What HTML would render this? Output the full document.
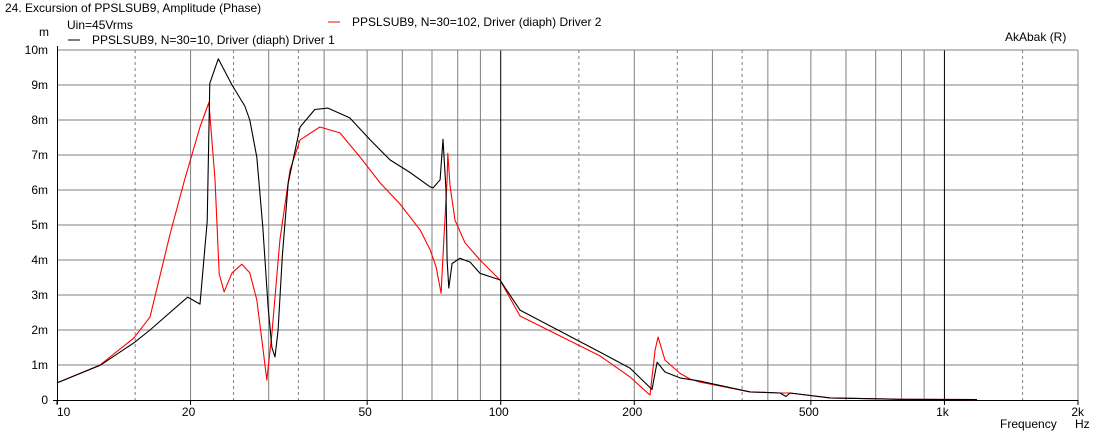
<!DOCTYPE html>
<html><head><meta charset="utf-8">
<style>
html,body{margin:0;padding:0;background:#fff;}
svg{display:block;font-family:"Liberation Sans",Arial,sans-serif;font-size:12px;}
</style></head>
<body>
<svg id="chart" width="1104" height="437" viewBox="0 0 1104 437" xmlns="http://www.w3.org/2000/svg">
<rect x="0" y="0" width="1104" height="437" fill="#fff"/>
<text x="5" y="12">24. Excursion of PPSLSUB9, Amplitude (Phase)</text>
<text x="67" y="29">Uin=45Vrms</text>
<text x="39" y="36">m</text>
<g>
<line x1="68" y1="40" x2="80" y2="40" stroke="#000" stroke-width="1"/>
<text x="92" y="44">PPSLSUB9, N=30=10, Driver (diaph) Driver 1</text>
</g>
<g>
<line x1="328" y1="22" x2="340" y2="22" stroke="#f00" stroke-width="1"/>
<text x="352" y="26">PPSLSUB9, N=30=102, Driver (diaph) Driver 2</text>
</g>
<text x="1005" y="41">AkAbak (R)</text>
<text x="1000" y="428">Frequency</text>
<text x="1075" y="428">Hz</text>
<g id="grid"></g>
<g id="axes"></g>
<g id="series"></g>
</svg>
<script>
const yTicks = [0,1,2,3,4,5,6,7,8,9,10];
const yTickLabels = ["0","1m","2m","3m","4m","5m","6m","7m","8m","9m","10m"];
const xSolid = [20,30,40,50,60,70,80,90,200,300,400,500,600,700,800,900];
const xDashed = [15,25,35,150,250,350,1500];
const xMajor = [100,1000];
const xTickValues = [10,20,50,100,200,500,1000,2000];
const xTickLabels = ["10","20","50","100","200","500","1k","2k"];

const freq1 = [10,12.5,14.9,16.2,19.7,21.0,21.8,22.1,23.1,24.8,26.5,27.2,28.2,29.1,29.9,30.5,31.0,31.5,32.2,33.2,35.3,38.1,40.8,45.7,50.8,56.3,62.5,69.3,70.4,73.0,74.1,75.3,75.7,76.4,77.7,80.9,85.3,89.8,99.6,110.5,167.4,195.6,219.3,225.1,234.6,253.6,281.3,364.7,426.1,439.5,448.7,552.4,794,1184];
const exc1 = [0.49,0.99,1.63,2.0,2.94,2.74,5.1,9.05,9.75,9.0,8.4,8.0,6.94,4.94,2.66,1.5,1.23,2.0,4.1,6.2,7.8,8.3,8.34,8.06,7.43,6.86,6.5,6.09,6.06,6.29,7.45,6.0,4.0,3.2,3.9,4.05,3.94,3.62,3.43,2.57,1.37,0.91,0.3,1.08,0.8,0.63,0.54,0.23,0.2,0.1,0.2,0.06,0.02,0.01];

const freq2 = [10,12.5,14.9,16.2,18.0,19.4,21.0,22.0,22.7,23.2,23.8,24.8,26.1,27.2,28.2,29.1,29.7,30.5,31.8,33.5,35.3,39.1,43.4,48.2,53.5,59.3,65.8,69.3,71.5,73.4,74.5,75.7,76.0,76.9,78.9,83.1,89.8,99.6,110.5,167.4,195.6,217.0,222.8,226.3,234.6,253.6,267.1,281.3,364.7,426.1,441.9,448.7,552.4,794,1184];
const exc2 = [0.49,1.0,1.77,2.37,4.77,6.3,7.8,8.5,6.3,3.6,3.09,3.63,3.88,3.63,2.86,1.5,0.57,1.9,4.57,6.57,7.43,7.8,7.63,6.94,6.2,5.6,4.86,4.3,3.8,3.05,4.67,6.3,7.05,6.1,5.14,4.49,4.0,3.43,2.4,1.26,0.66,0.14,1.43,1.8,1.14,0.76,0.6,0.51,0.23,0.2,0.2,0.2,0.06,0.02,0.01];

const X0 = 57, X1 = 1078, Y0 = 400, Y1 = 50;
const fMin = 10, fMax = 2000, vMax = 10;
function xScale(f){ return X0 + (Math.log10(f) - Math.log10(fMin)) / (Math.log10(fMax) - Math.log10(fMin)) * (X1 - X0); }
function yScale(v){ return Y0 - v / vMax * (Y0 - Y1); }
const NS = "http://www.w3.org/2000/svg";
function mk(tag, attrs, parent){ const e = document.createElementNS(NS, tag); for (const k in attrs) e.setAttribute(k, attrs[k]); parent.appendChild(e); return e; }

const grid = document.getElementById('grid');
const axes = document.getElementById('axes');
const series = document.getElementById('series');

yTicks.forEach((v, i) => {
  const y = yScale(v);
  if (v > 0) {
    const l = mk('line', {x1: X0, y1: y, x2: X1, y2: y, stroke: '#808080', 'stroke-width': 1}, grid);
    
    
  }
  const t = mk('text', {x: 48, y: y + 4, 'text-anchor': 'end'}, axes);
  t.textContent = yTickLabels[i];
  
  
});
xSolid.forEach(f => {
  const x = xScale(f);
  const l = mk('line', {x1: x, y1: Y1, x2: x, y2: Y0, stroke: '#808080', 'stroke-width': 1}, grid);
  
  
});
xDashed.forEach(f => {
  const x = xScale(f);
  const l = mk('line', {x1: x, y1: Y1, x2: x, y2: Y0, stroke: '#808080', 'stroke-width': 1, 'stroke-dasharray': '3,3'}, grid);
  
  
});
xMajor.forEach(f => {
  const x = xScale(f);
  const l = mk('line', {x1: x, y1: Y1, x2: x, y2: Y0, stroke: '#000', 'stroke-width': 1}, grid);
  
  
});
const rb = mk('line', {x1: X1, y1: Y1, x2: X1, y2: Y0, stroke: '#808080', 'stroke-width': 1}, grid);


const topb = mk('line', {x1: X0, y1: Y1, x2: X1, y2: Y1, stroke: '#808080', 'stroke-width': 1}, grid);



const ya = mk('line', {x1: X0 + 0.5, y1: Y1 - 4, x2: X0 + 0.5, y2: Y0 + 4, stroke: '#000', 'stroke-width': 1}, axes);


const xa = mk('line', {x1: X0 - 4, y1: Y0 + 0.5, x2: X1, y2: Y0 + 0.5, stroke: '#000', 'stroke-width': 1}, axes);



xTickValues.forEach((f, i) => {
  const x = xScale(f);
  const tk = mk('line', {x1: x, y1: Y0, x2: x, y2: Y0 + 5, stroke: '#000', 'stroke-width': 1}, axes);
  
  
  const t = mk('text', {x: (i === 0 ? x : x - 2), y: 416, 'text-anchor': (i === 0 ? 'start' : (i === xTickValues.length - 1 ? 'end' : 'middle'))}, axes);
  if (i === xTickValues.length - 1) t.setAttribute('x', x + 6);
  t.textContent = xTickLabels[i];
  
  
});

function drawLine(fs, vs, color, name){
  const pts = fs.map((f, i) => xScale(f).toFixed(1) + ',' + yScale(vs[i]).toFixed(1)).join(' ');
  const p = mk('polyline', {points: pts, fill: 'none', stroke: color, 'stroke-width': 1.1, 'stroke-linejoin': 'round'}, series);
  
  
}
drawLine(freq2, exc2, '#f00', 'series-driver-2');
drawLine(freq1, exc1, '#000', 'series-driver-1');
</script>
</body></html>
